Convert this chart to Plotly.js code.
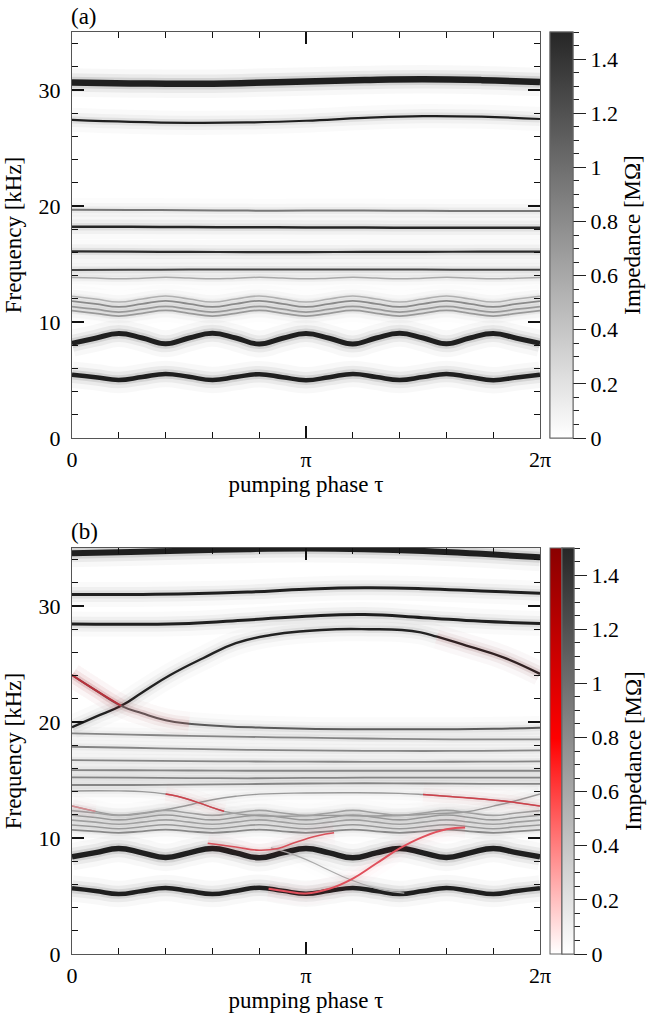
<!DOCTYPE html>
<html><head><meta charset="utf-8">
<script src="https://cdn.plot.ly/plotly-3.0.1.min.js"></script>
<style>
html,body{margin:0;padding:0;background:#fff}
</style>
</head><body><div id="chart" style="width:660px;height:1016px"></div>
<script>
// ---------- sampling grids (pumping phase, in units of pi) ----------
const phase21 = [0,0.1,0.2,0.3,0.4,0.5,0.6,0.7,0.8,0.9,1,1.1,1.2,1.3,1.4,1.5,1.6,1.7,1.8,1.9,2];
const phase9  = [0,0.25,0.5,0.75,1,1.25,1.5,1.75,2];

// ---------- panel (a): resonance frequencies [kHz] ----------
const a_f306 = [30.64,30.57,30.53,30.60,30.74,30.86,30.92,30.85,30.68];
const a_f274 = [27.42,27.25,27.17,27.20,27.35,27.60,27.75,27.70,27.50];
const a_f196 = [19.68,19.66,19.63,19.60,19.60,19.60,19.58,19.57,19.57];
const a_f182 = [18.22,18.20,18.18,18.17,18.15,18.14,18.13,18.13,18.13];
const a_f161 = [16.08,16.06,16.04,16.03,16.03,16.04,16.05,16.06,16.07];
const a_f145 = [14.48,14.50,14.52,14.53,14.53,14.53,14.52,14.50,14.50];
const a_f138 = [13.84,13.79,13.72,13.78,13.85,13.79,13.72,13.78,13.85,13.79,13.72,13.78,13.85,13.79,13.72,13.78,13.85,13.79,13.72,13.78,13.84];
const a_g1 = [12.22,11.98,11.72,11.98,12.24,11.98,11.72,11.98,12.24,11.98,11.72,11.98,12.24,11.98,11.72,11.98,12.24,11.98,11.72,11.98,12.22];
const a_g2 = [11.80,11.56,11.30,11.56,11.82,11.56,11.30,11.56,11.82,11.56,11.30,11.56,11.82,11.56,11.30,11.56,11.82,11.56,11.30,11.56,11.80];
const a_g3 = [11.33,11.10,10.85,11.10,11.35,11.10,10.85,11.10,11.35,11.10,10.85,11.10,11.35,11.10,10.85,11.10,11.35,11.10,10.85,11.10,11.33];
const a_g4 = [10.98,10.75,10.50,10.75,11.00,10.75,10.50,10.75,11.00,10.75,10.50,10.75,11.00,10.75,10.50,10.75,11.00,10.75,10.50,10.75,10.98];
const a_f8 = [8.15,8.60,9.00,8.62,8.12,8.62,9.02,8.62,8.10,8.60,9.00,8.60,8.10,8.62,9.02,8.62,8.12,8.62,9.00,8.60,8.15];
const a_f5 = [5.45,5.24,5.00,5.26,5.52,5.27,5.00,5.25,5.50,5.24,4.98,5.24,5.52,5.26,5.00,5.25,5.52,5.25,4.98,5.22,5.45];

// ---------- panel (b): resonance frequencies [kHz] ----------
const b_f345 = [34.55,34.65,34.78,34.90,34.95,34.90,34.75,34.50,34.20];
const b_f311 = [31.00,31.00,31.05,31.20,31.45,31.57,31.50,31.30,31.10];
const b_f285 = [28.45,28.43,28.50,28.80,29.12,29.27,29.00,28.68,28.50];
const b_arcX = [0,0.1,0.21,0.3,0.42,0.56,0.7,0.85,1.0,1.13,1.27,1.41,1.49,1.56,1.7,1.84,2.0];
const b_arcY = [19.55,20.45,21.40,22.55,24.05,25.50,26.80,27.50,27.85,28.00,28.00,27.93,27.73,27.36,26.50,25.60,24.15];
const b_dX = [0,0.1,0.21,0.3,0.4,0.5,0.65,0.8,1.0,1.4,1.8,2.0];
const b_dY = [24.05,22.75,21.40,20.75,20.15,19.85,19.64,19.52,19.42,19.37,19.42,19.50];
const b_h1 = [19.02,18.92,18.80,18.72,18.65,18.58,18.53,18.50,18.50];
const b_h2 = [17.87,17.78,17.68,17.60,17.55,17.52,17.50,17.52,17.55];
const b_h3 = [16.72,16.68,16.63,16.60,16.58,16.57,16.57,16.58,16.60];
const b_h4 = [15.86,15.84,15.82,15.80,15.80,15.80,15.80,15.80,15.80];
const b_h5 = [15.23,15.20,15.17,15.15,15.18,15.20,15.20,15.20,15.20];
const b_h6 = [14.57,14.57,14.60,14.65,14.70,14.72,14.70,14.67,14.66];
const b_c1X = [0,0.1,0.2,0.3,0.4,0.5,0.54,0.6,0.7,0.8,1.0,1.2,1.4,1.5,1.6,1.7,1.8,1.9,2.0];
const b_c1Y = [12.76,12.30,11.97,12.10,12.45,12.85,13.05,13.30,13.60,13.78,13.88,13.90,13.85,13.75,13.60,13.45,13.27,13.05,12.75];
const b_c2X = [0,0.1,0.2,0.3,0.4,0.45,0.54,0.6,0.65,0.75,0.9,1.1,1.3,1.45,1.55,1.69,1.8,1.88,2.0];
const b_c2Y = [14.05,14.08,14.06,14.00,13.80,13.60,13.05,12.62,12.30,11.98,11.88,11.95,11.90,11.98,12.10,12.27,12.75,13.13,13.80];
const b_g1 = [12.36,12.16,11.95,12.16,12.38,12.16,11.95,12.16,12.38,12.16,11.95,12.16,12.38,12.16,11.95,12.16,12.38,12.16,11.95,12.16,12.36];
const b_g2 = [11.96,11.77,11.56,11.77,11.98,11.77,11.56,11.77,11.98,11.77,11.56,11.77,11.98,11.77,11.56,11.77,11.98,11.77,11.56,11.77,11.96];
const b_g3 = [11.54,11.37,11.18,11.37,11.56,11.37,11.18,11.37,11.56,11.37,11.18,11.37,11.56,11.37,11.18,11.37,11.56,11.37,11.18,11.37,11.54];
const b_g4 = [11.12,10.97,10.80,10.97,11.14,10.97,10.80,10.97,11.14,10.97,10.80,10.97,11.14,10.97,10.80,10.97,11.14,10.97,10.80,10.97,11.12];
const b_g5 = [10.70,10.58,10.45,10.58,10.72,10.58,10.45,10.58,10.72,10.58,10.45,10.58,10.72,10.58,10.45,10.58,10.72,10.58,10.45,10.58,10.70];
const b_f8 = [8.39,8.74,9.10,8.72,8.32,8.72,9.10,8.72,8.30,8.72,9.10,8.72,8.30,8.72,9.10,8.72,8.32,8.72,9.10,8.74,8.39];
const b_f5 = [5.66,5.43,5.17,5.44,5.70,5.43,5.17,5.44,5.72,5.45,5.20,5.45,5.70,5.44,5.17,5.43,5.70,5.44,5.17,5.43,5.66];
const b_r2X = [0.58,0.7,0.8,0.88,0.95,1.05,1.12];
const b_r2Y = [9.55,9.22,8.95,9.10,9.60,10.20,10.45];
const b_r3X = [0.84,0.92,1.0,1.1,1.2,1.3,1.4,1.5,1.6,1.68];
const b_r3Y = [5.62,5.38,5.22,5.62,6.50,7.80,9.10,10.10,10.75,10.90];
const b_gdX = [0.85,0.97,1.08,1.19,1.33,1.42];
const b_gdY = [9.15,8.40,7.40,6.40,5.50,5.25];

// ---------- axis / colorbar labels ----------
const phaseTicks = [0,1,2];
const phaseTickText = ['0','\u03c0','2\u03c0'];
const phaseMinor = [0.2,0.4,0.6,0.8,1.2,1.4,1.6,1.8];
const cbTicks = [0,0.2,0.4,0.6,0.8,1,1.2,1.4];
const cbTickText = ['0','0.2','0.4','0.6','0.8','1','1.2','1.4'];
const cbMinor = [0.05,0.1,0.15,0.25,0.3,0.35,0.45,0.5,0.55,0.65,0.7,0.75,0.85,0.9,0.95,1.05,1.1,1.15,1.25,1.3,1.35,1.45,1.5];

// ---------- helpers ----------
const F = 'Liberation Serif, serif';
function pick(xs, ys, lo, hi){
  const x=[], y=[];
  xs.forEach((v,i)=>{ if(v>=lo && v<=hi){ x.push(v); y.push(ys[i]); } });
  return {x, y};
}
const DARK='#1f1f1f', GRAY='#858585', RED='#d0404a';

// styles: panel, data, core width, core colour, halo strength
const lines = [
  {p:'a', x:phase9, y:a_f306, w:6.5, c:DARK, h:1.5},
  {p:'a', x:phase9, y:a_f274, w:2.2, c:DARK, h:1},
  {p:'a', x:phase9, y:a_f196, w:2.0, c:'#777', h:0.7},
  {p:'a', x:phase9, y:a_f182, w:2.5, c:'#262626', h:1},
  {p:'a', x:phase9, y:a_f161, w:2.2, c:'#2a2a2a', h:1},
  {p:'a', x:phase9, y:a_f145, w:2.0, c:'#444', h:0.8},
  {p:'a', x:phase21, y:a_f138, w:1.5, c:'#aaa', h:0.4},
  {p:'a', x:phase21, y:a_g1, w:1.6, c:'#b0b0b0', h:0.4},
  {p:'a', x:phase21, y:a_g2, w:1.8, c:'#8a8a8a', h:0.5},
  {p:'a', x:phase21, y:a_g3, w:1.8, c:'#999', h:0.5},
  {p:'a', x:phase21, y:a_g4, w:1.8, c:'#999', h:0.5},
  {p:'a', x:phase21, y:a_f8, w:5.0, c:DARK, h:1.5},
  {p:'a', x:phase21, y:a_f5, w:4.5, c:DARK, h:1.5},

  {p:'b', x:phase9, y:b_f345, w:6.0, c:DARK, h:1.5},
  {p:'b', x:phase9, y:b_f311, w:3.0, c:DARK, h:1.1},
  {p:'b', x:phase9, y:b_f285, w:3.0, c:DARK, h:1.1},
  {p:'b', x:b_arcX, y:b_arcY, w:2.4, c:'#222', h:1},
  {p:'b', x:b_dX, y:b_dY, w:2.0, c:'#5a5a5a', h:0.8},
  {p:'b', x:phase9, y:b_h1, w:1.8, c:GRAY, h:0.6},
  {p:'b', x:phase9, y:b_h2, w:1.8, c:GRAY, h:0.6},
  {p:'b', x:phase9, y:b_h3, w:1.8, c:GRAY, h:0.6},
  {p:'b', x:phase9, y:b_h4, w:1.8, c:GRAY, h:0.6},
  {p:'b', x:phase9, y:b_h5, w:1.8, c:GRAY, h:0.6},
  {p:'b', x:phase9, y:b_h6, w:1.8, c:GRAY, h:0.6},
  {p:'b', x:b_c1X, y:b_c1Y, w:1.4, c:'#999', h:0.4},
  {p:'b', x:b_c2X, y:b_c2Y, w:1.4, c:'#999', h:0.4},
  {p:'b', x:phase21, y:b_g1, w:1.6, c:'#a0a0a0', h:0.4},
  {p:'b', x:phase21, y:b_g2, w:1.6, c:'#999', h:0.4},
  {p:'b', x:phase21, y:b_g3, w:1.6, c:'#a0a0a0', h:0.4},
  {p:'b', x:phase21, y:b_g4, w:1.6, c:'#999', h:0.4},
  {p:'b', x:phase21, y:b_g5, w:1.8, c:'#888', h:0.5},
  {p:'b', x:phase21, y:b_f8, w:5.5, c:DARK, h:1.5},
  {p:'b', x:phase21, y:b_f5, w:4.5, c:DARK, h:1.5},
  {p:'b', x:b_gdX, y:b_gdY, w:1.2, c:'#aaa', h:0.3}
];
const dRed = pick(b_dX, b_dY, 0, 0.21);
const dHalo = pick(b_dX, b_dY, 0, 0.5);
const arcHalo = pick(b_arcX, b_arcY, 1.56, 2);
const c1RedR = pick(b_c1X, b_c1Y, 1.45, 2);
const c1RedL = pick(b_c1X, b_c1Y, 0, 0.1);
const c2Red = pick(b_c2X, b_c2Y, 0.4, 0.72);
const reds = [
  {p:'b', x:dHalo.x, y:dHalo.y, w:2, c:null, h:0.8},
  {p:'b', x:arcHalo.x, y:arcHalo.y, w:2, c:null, h:0.7},
  {p:'b', x:dRed.x, y:dRed.y, w:1.8, c:'#b8323c', h:0.6},
  {p:'b', x:c1RedR.x, y:c1RedR.y, w:1.5, c:RED, h:0.5},
  {p:'b', x:c1RedL.x, y:c1RedL.y, w:1.4, c:'#d88a90', h:0.3},
  {p:'b', x:c2Red.x, y:c2Red.y, w:1.5, c:RED, h:0.5},
  {p:'b', x:b_r2X, y:b_r2Y, w:1.6, c:'#d8505a', h:0.6},
  {p:'b', x:b_r3X, y:b_r3Y, w:2.0, c:'#e0505c', h:0.6}
];

const traces = [];
const SM = 1.3;
function base(L){
  return {type:'scatter', mode:'lines', x:L.x, y:L.y,
    xaxis: L.p==='a'?'x':'x2', yaxis: L.p==='a'?'y':'y2',
    hoverinfo:'skip', showlegend:false};
}
function halo(L, rgb){
  const h=L.h;
  [[22,0.018],[12,0.035],[5,0.065]].forEach(([dw,al])=>{
    traces.push(Object.assign(base(L), {line:{width:L.w+dw, color:`rgba(${rgb},${(al*h).toFixed(3)})`, shape:'spline', smoothing:SM}}));
  });
}
function core(L){
  if(!L.c) return;
  traces.push(Object.assign(base(L), {line:{width:L.w, color:L.c, shape:'spline', smoothing:SM}}));
}
lines.forEach(L=>halo(L,'0,0,0'));
lines.forEach(core);
reds.forEach(L=>halo(L,'240,40,50'));
reds.forEach(core);

// ---------- colour bars ----------
const grayScale = [[0,'#ffffff'],[1,'#262626']];
const redScale  = [[0,'#ffffff'],[0.53,'#ff0000'],[1,'#8a0000']];
function cbar(ax, x, y, yanchor, thick, scale, kind){
  const cb = {x:x, xanchor:'left', xref:'paper', y:y, yanchor:yanchor, yref:'paper',
    len:406, lenmode:'pixels', thickness:thick, thicknessmode:'pixels', xpad:0, ypad:0,
    outlinecolor:'#666', outlinewidth:1};
  if(kind==='major'){
    Object.assign(cb, {ticks:'outside', ticklen:13, tickwidth:1, tickcolor:'#222',
      tickmode:'array', tickvals:cbTicks, ticktext:cbTickText, tickprefix:'\u00a0\u00a0\u00a0\u00a0', ticksuffix:'\u00a0',
      tickfont:{family:F, size:22, color:'#000'},
      title:{text:'Impedance [M\u03a9]', side:'right', font:{family:F, size:23, color:'#000'}}});
  } else if(kind==='minor'){
    Object.assign(cb, {ticks:'outside', ticklen:6, tickwidth:1, tickcolor:'#222',
      tickmode:'array', tickvals:cbMinor, showticklabels:false});
  } else {
    Object.assign(cb, {ticks:'', showticklabels:false});
  }
  return {type:'scatter', mode:'markers', x:[null], y:[null], xaxis:ax==='a'?'x':'x2', yaxis:ax==='a'?'y':'y2',
    hoverinfo:'skip', showlegend:false,
    marker:{color:[0], cmin:0, cmax:1.5, colorscale:scale, showscale:true, colorbar:cb}};
}
const cbx = (550-72)/468;
const cbx2 = (561.5-72)/468;
traces.push(cbar('a', cbx, 1, 'top', 23, grayScale, 'minor'));
traces.push(cbar('a', cbx, 1, 'top', 23, grayScale, 'major'));
traces.push(cbar('b', cbx, 0, 'bottom', 11.5, redScale, 'none'));
traces.push(cbar('b', cbx2, 0, 'bottom', 11.5, grayScale, 'minor'));
traces.push(cbar('b', cbx2, 0, 'bottom', 11.5, grayScale, 'major'));

// ---------- layout ----------
function xax(anchor){
  return {anchor:anchor, domain:[0,1], range:[0,2], tickmode:'array', tickvals:phaseTicks, ticktext:phaseTickText,
    ticks:'inside', ticklen:12, tickwidth:1.2, tickcolor:'#111', ticklabelstandoff:2,
    showline:true, linecolor:'#555', linewidth:1, mirror:'allticks', showgrid:false, zeroline:false,
    minor:{tickmode:'array', tickvals:phaseMinor, ticks:'inside', ticklen:6, tickwidth:1, tickcolor:'#111', showgrid:false},
    tickfont:{family:F, size:22, color:'#000'},
    title:{text:'pumping phase \u03c4', font:{family:F, size:23, color:'#000'}, standoff:0}};
}
function yax(anchor, domain){
  return {anchor:anchor, domain:domain, range:[0,35], tickmode:'linear', tick0:0, dtick:10,
    ticks:'inside', ticklen:12, tickwidth:1.2, tickcolor:'#111', ticklabelstandoff:6,
    showline:true, linecolor:'#555', linewidth:1, mirror:'allticks', showgrid:false, zeroline:false,
    minor:{tick0:0, dtick:2, ticks:'inside', ticklen:6, tickwidth:1, tickcolor:'#111', showgrid:false},
    tickfont:{family:F, size:22, color:'#000'},
    title:{text:'Frequency [kHz]', font:{family:F, size:23, color:'#000'}, standoff:10}};
}
const layout = {
  width:660, height:1016, margin:{l:72, r:120, t:32, b:62, pad:0},
  paper_bgcolor:'#ffffff', plot_bgcolor:'#ffffff', showlegend:false,
  xaxis: xax('y'), yaxis: yax('x', [0.5597,1]),
  xaxis2: xax('y2'), yaxis2: yax('x2', [0,0.4403]),
  annotations:[
    {text:'(a)', xref:'paper', yref:'paper', x:-0.0064, y:1.0168, xanchor:'left', yanchor:'middle', showarrow:false, font:{family:F, size:23, color:'#000'}},
    {text:'(b)', xref:'paper', yref:'paper', x:-0.0064, y:0.4587, xanchor:'left', yanchor:'middle', showarrow:false, font:{family:F, size:23, color:'#000'}}
  ]
};
Plotly.newPlot('chart', traces, layout, {staticPlot:true});
</script></body></html>
